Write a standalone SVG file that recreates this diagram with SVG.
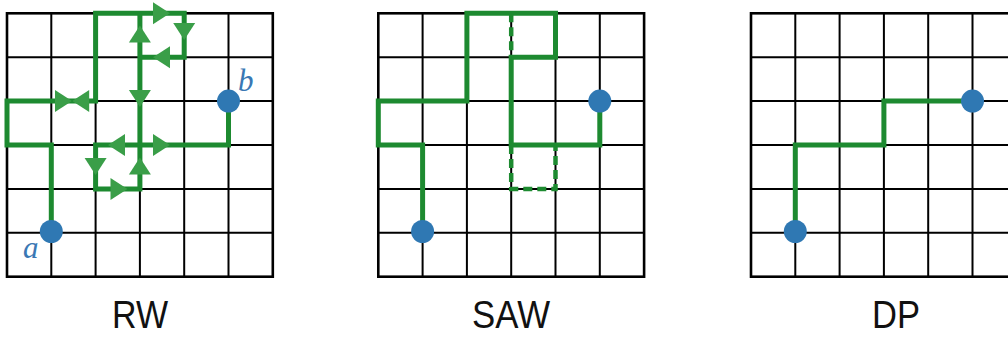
<svg xmlns="http://www.w3.org/2000/svg" xmlns:xlink="http://www.w3.org/1999/xlink" width="1008" height="339" viewBox="0 0 1008 339">
<style>
.bg{fill:#ffffff}
.grid{fill:none;stroke:#000;stroke-width:2}
.frame{fill:none;stroke:#000;stroke-width:2.6}
.walk{fill:none;stroke:#1d8a30;stroke-width:5;stroke-linejoin:miter;stroke-linecap:square}
.dash{fill:none;stroke:#1d8a30;stroke-width:4.5;stroke-dasharray:9 5}
.arr{fill:#3a9e48}
.dot{fill:#2f78b3}
.lab{font-family:"Liberation Serif",serif;font-style:italic;font-size:31px;fill:#3a78b4}
.title{font-family:"Liberation Sans",Arial,sans-serif;font-size:38px;fill:#111;text-anchor:middle}
</style>
<defs>
<g id="grid">
<path class="grid" d="M44.3 0V263.4M88.6 0V263.4M132.9 0V263.4M177.2 0V263.4M221.5 0V263.4M0 43.9H265.8M0 87.8H265.8M0 131.7H265.8M0 175.6H265.8M0 219.5H265.8"/>
<rect class="frame" x="0" y="0" width="265.8" height="263.4"/>
</g>
<path id="tri" d="M-8.5 -11L8.5 0L-8.5 11Z"/>
</defs>
<rect class="bg" x="0" y="0" width="1008" height="339"/>
<g id="grids">
<use xlink:href="#grid" transform="translate(7 13.3)"/>
<use xlink:href="#grid" transform="translate(378.3 13.3)"/>
<use xlink:href="#grid" transform="translate(751 13.3)"/>
</g>
<g id="connectors">
<path class="walk" d="M51.3 232.8V145H7V101.1H95.6V13.3H184.2V57.2H139.9M139.9 13.3V188.9H95.6V145H228.5V101.1"/>
<g class="arr">
<use xlink:href="#tri" transform="translate(63.5 101.1)"/>
<use xlink:href="#tri" transform="translate(80.7 101.1) rotate(180)"/>
<use xlink:href="#tri" transform="translate(139.9 34) rotate(-90)"/>
<use xlink:href="#tri" transform="translate(161.5 13.3)"/>
<use xlink:href="#tri" transform="translate(184.2 31.5) rotate(90)"/>
<use xlink:href="#tri" transform="translate(161.5 57.2) rotate(180)"/>
<use xlink:href="#tri" transform="translate(139.9 98.5) rotate(90)"/>
<use xlink:href="#tri" transform="translate(116.5 145) rotate(180)"/>
<use xlink:href="#tri" transform="translate(161.5 145)"/>
<use xlink:href="#tri" transform="translate(95.6 166.5) rotate(90)"/>
<use xlink:href="#tri" transform="translate(119 188.9)"/>
<use xlink:href="#tri" transform="translate(139.9 166) rotate(-90)"/>
</g>
<path class="walk" d="M422.6 232.8V145H378.3V101.1H466.9V13.3H555.5V57.2H511.2V145H599.8V101.1"/>
<path class="dash" d="M511.2 13.3V57.2M511.2 145V188.9H555.5V145"/>
<path class="walk" d="M795.3 232.8V145H883.9V101.1H972.5"/>
</g>
<g id="rw">
<circle id="rw-a" class="dot" cx="51.3" cy="231.5" r="11.5"/>
<circle id="rw-b" class="dot" cx="228.5" cy="101.1" r="11.5"/>
<text class="lab" x="23" y="258">a</text>
<text class="lab" x="238" y="91">b</text>
<text class="title" x="140" y="328" textLength="56" lengthAdjust="spacingAndGlyphs">RW</text>
</g>
<g id="saw">
<circle id="saw-a" class="dot" cx="422.6" cy="231.5" r="11.5"/>
<circle id="saw-b" class="dot" cx="599.8" cy="101.1" r="11.5"/>
<text class="title" x="511" y="328" textLength="78" lengthAdjust="spacingAndGlyphs">SAW</text>
</g>
<g id="dp">
<circle id="dp-a" class="dot" cx="795.3" cy="231.5" r="11.5"/>
<circle id="dp-b" class="dot" cx="972.5" cy="101.1" r="11.5"/>
<text class="title" x="896" y="328" textLength="48" lengthAdjust="spacingAndGlyphs">DP</text>
</g>
</svg>
